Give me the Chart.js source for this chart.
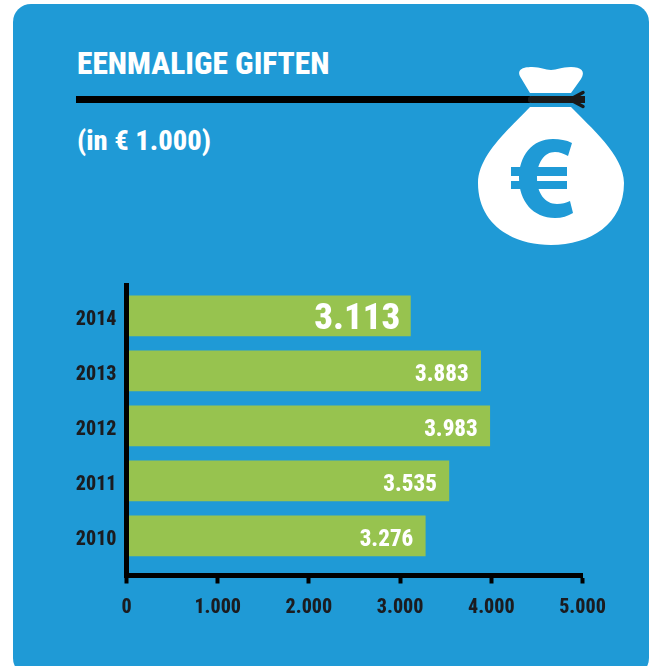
<!DOCTYPE html>
<html>
<head>
<meta charset="utf-8">
<title>Eenmalige giften</title>
<script src="https://cdn.jsdelivr.net/npm/chart.js@4"></script>
<style>
  html, body { margin: 0; padding: 0; background: #fff; overflow: hidden; }
  #page { position: relative; width: 649px; height: 666px; overflow: hidden; font-family: Roboto, sans-serif; font-stretch: 75%; }
  #panel { position: absolute; left: 13px; top: 4px; width: 636px; height: 672px; background: #1f9ad6; border-radius: 18px; }
  #title, #subtitle { position: absolute; left: 77px; color: #fff; font-weight: 800; white-space: nowrap; }
  #title { top: 46px; font-size: 31.5px; line-height: 36px; }
  #subtitle { top: 123px; font-size: 28.5px; line-height: 36px; }
  #bag { position: absolute; left: 0; top: 0; }
  #myChart { position: absolute; left: 0; top: 0; }
</style>
</head>
<body>
<div id="page">
  <div id="panel"></div>
  <svg id="bag" width="649" height="666">
    <!-- zak -->
    <path fill="#fff" d="M530 93 L521 78 C516 70 522 67 532 67 C541 67 545 70 551 70 C557 70 561 67 571 67 C581 67 586 71 581 79 L571 93 Z"/>
    <path fill="#fff" d="M530 107 L571 107 C590 127 624 155 624 183 C624 224 590 245 551 245 C512 245 478 224 478 183 C478 155 511 127 530 107 Z"/>
    <!-- euroteken -->
    <path fill="#1f9ad6" d="M572 143 C566 140 560 139 553 139 C532 139 519 156 519 178 C519 201 533 218 555 218 C562 218 568 216 573 213 L570 201 C566 203 562 204 557 204 C545 204 537 193 537 178 C537 163 544 152 555 152 C560 152 564 154 568 156 Z"/>
    <rect x="511" y="167" width="56" height="9" fill="#1f9ad6"/>
    <rect x="511" y="181" width="56" height="8" fill="#1f9ad6"/>
    <!-- lijn met koord -->
    <rect x="76" y="96" width="454" height="7" fill="#000"/>
    <rect x="528" y="96" width="54" height="7" rx="3" fill="#1a1a1a"/>
    <path fill="none" stroke="#1a1a1a" stroke-width="3.5" stroke-linecap="round" d="M570 99.5 L583 92.5 M570 99.5 L583 106.5"/>
    <rect x="578" y="96" width="7" height="7" fill="#1a1a1a"/>
  </svg>
  <div id="title">EENMALIGE GIFTEN</div>
  <div id="subtitle">(in € 1.000)</div>
  <canvas id="myChart" width="649" height="666"></canvas>
</div>
<script>
  const years = [2014, 2013, 2012, 2011, 2010]
  const gifts = [3113, 3883, 3983, 3535, 3276]
  const valueTicks = [0, 1000, 2000, 3000, 4000, 5000]
  const highlightYear = 2014

  const darkText = '#1b1c20'
  const fontFamily = 'Roboto, sans-serif'

  function dotted(v) {
    return String(v).replace(/\B(?=(\d{3})+$)/g, '.')
  }

  // smalle letters op de hele canvas
  const narrowFont = {
    id: 'narrowFont',
    beforeDraw(chart) { chart.ctx.fontStretch = 'condensed' }
  }

  // waarden in de balken, rechts uitgelijnd
  const barLabels = {
    id: 'barLabels',
    afterDatasetsDraw(chart) {
      const ctx = chart.ctx
      chart.getDatasetMeta(0).data.forEach((bar, i) => {
        const big = years[i] === highlightYear
        ctx.save()
        ctx.fillStyle = '#fff'
        ctx.textAlign = 'right'
        ctx.textBaseline = 'middle'
        ctx.font = '800 ' + (big ? 37 : 23) + 'px ' + fontFamily
        ctx.fontStretch = 'condensed'
        ctx.fillText(dotted(gifts[i]), bar.x - (big ? 10 : 12), bar.y + (big ? 4 : 4))
        ctx.restore()
      })
    }
  }

  new Chart(document.getElementById('myChart'), {
    type: 'bar',
    data: {
      datasets: [{
        data: years.map((y, i) => ({ x: gifts[i], y: y })),
        backgroundColor: '#97c34f',
        barThickness: 40,
        borderWidth: 0
      }]
    },
    plugins: [narrowFont, barLabels],
    options: {
      indexAxis: 'y',
      responsive: false,
      animation: false,
      layout: { padding: { left: 0, right: 66.5, top: 285, bottom: 0 } },
      plugins: { legend: { display: false }, tooltip: { enabled: false } },
      scales: {
        x: {
          type: 'linear',
          min: 0,
          max: 5000,
          afterBuildTicks(scale) { scale.ticks = valueTicks.map(v => ({ value: v })) },
          afterFit(scale) { scale.height = 90.5 },
          border: { color: '#000', width: 5, z: 1 },
          grid: { drawOnChartArea: false, drawTicks: true, tickLength: 8, tickWidth: 4, tickColor: '#000' },
          ticks: {
            color: darkText,
            padding: 12,
            maxRotation: 0,
            font: { family: fontFamily, weight: '800', size: 20 },
            callback: v => dotted(v)
          }
        },
        y: {
          type: 'linear',
          offset: false,
          min: 2009.28,
          max: 2014.56,
          afterBuildTicks(scale) { scale.ticks = years.map(v => ({ value: v })) },
          afterFit(scale) { scale.width = 126.5 },
          border: { color: '#000', width: 5, z: 1 },
          grid: { display: false, drawTicks: false, offset: false },
          ticks: {
            color: darkText,
            padding: 10,
            labelOffset: 4,
            font: { family: fontFamily, weight: '800', size: 20 },
            callback: v => String(v)
          }
        }
      }
    }
  })
</script>
</body>
</html>
